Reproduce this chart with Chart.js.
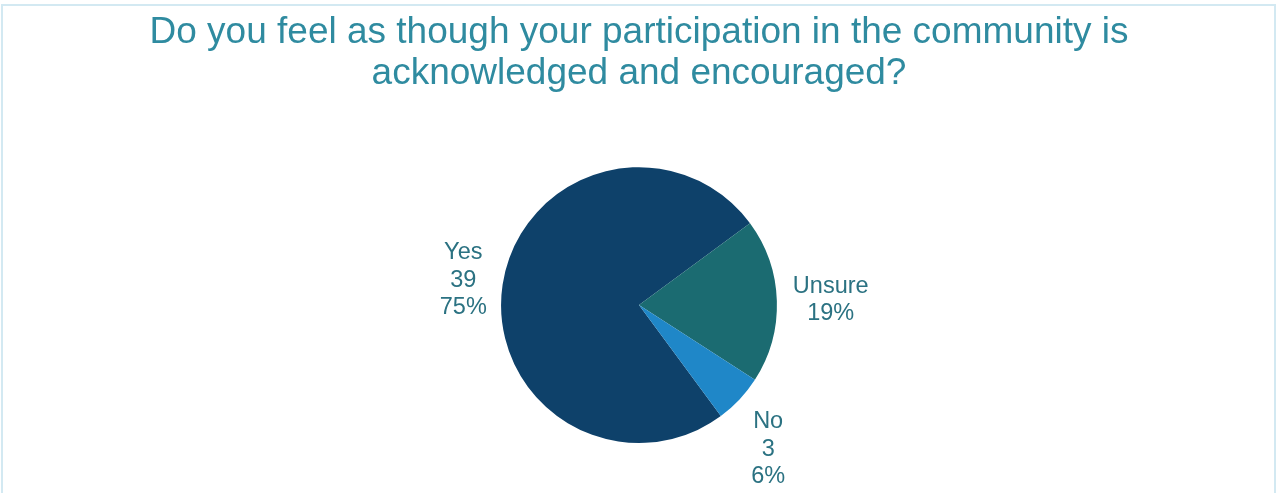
<!DOCTYPE html>
<html>
<head>
<meta charset="utf-8">
<script src="https://cdn.jsdelivr.net/npm/chart.js@4.4.1/dist/chart.umd.min.js"></script>
<style>
  html, body { margin: 0; padding: 0; background: #fff; }
  #wrap { position: relative; width: 1276px; height: 493px; overflow: hidden; }
  #frame {
    position: absolute; left: 1px; top: 4px; width: 1271px; height: 500px;
    border: 2px solid #d3e9f2; pointer-events: none;
  }
  canvas { position: absolute; left: 0; top: 0; }
</style>
</head>
<body>
<div id="wrap">
  <canvas id="chart" width="1276" height="493"></canvas>
  <div id="frame"></div>
</div>
<script>
const TITLE_LINES = [
  "Do you feel as though your participation in the community is",
  "acknowledged and encouraged?",
];
const CATEGORIES = ["Yes", "Unsure", "No"];
const COUNTS = [39, 10, 3];
const PERCENT_LABELS = ["75%", "19%", "6%"];
const SHOW_COUNT = [true, false, true];
const SLICE_COLORS = ["#0e416a", "#1b6b71", "#1f87c8"];

const LABEL_COLOR = "#2b7282";
const LABEL_FONT = "23.5px 'Liberation Sans', Arial, sans-serif";
const LABEL_LINE = 27.5;
const LABEL_GAP = 16;

const clamp1 = (v) => Math.max(-1, Math.min(1, v));

// label blocks sit outside each slice, anchored at the slice's mid angle
const outsideLabels = {
  id: "outsideLabels",
  afterDatasetsDraw(chart) {
    const ctx = chart.ctx;
    const meta = chart.getDatasetMeta(0);
    ctx.save();
    ctx.font = LABEL_FONT;
    ctx.fillStyle = LABEL_COLOR;
    ctx.textAlign = "center";
    ctx.textBaseline = "middle";
    meta.data.forEach((arc, i) => {
      const lines = [CATEGORIES[i]];
      if (SHOW_COUNT[i]) lines.push(String(COUNTS[i]));
      lines.push(PERCENT_LABELS[i]);

      const mid = (arc.startAngle + arc.endAngle) / 2;
      const ux = Math.cos(mid);
      const uy = Math.sin(mid);
      const halfW = Math.max(...lines.map((t) => ctx.measureText(t).width)) / 2;
      const halfH = (lines.length * LABEL_LINE) / 2;
      const ax = arc.x + ux * (arc.outerRadius + LABEL_GAP);
      const ay = arc.y + uy * (arc.outerRadius + LABEL_GAP);
      const cx = ax + halfW * clamp1(1.5 * ux);
      const cy = ay + halfH * clamp1(2 * uy * Math.abs(uy));
      lines.forEach((t, k) => {
        ctx.fillText(t, cx, cy + (k - (lines.length - 1) / 2) * LABEL_LINE);
      });
    });
    ctx.restore();
  },
};

new Chart(document.getElementById("chart"), {
  type: "pie",
  data: {
    labels: CATEGORIES,
    datasets: [
      {
        data: COUNTS,
        backgroundColor: SLICE_COLORS,
        borderWidth: 0,
      },
    ],
  },
  options: {
    responsive: false,
    animation: false,
    rotation: 143.6,
    layout: { padding: { top: 0, bottom: 50, left: 2, right: 0 } },
    plugins: {
      legend: { display: false },
      tooltip: { enabled: false },
      title: {
        display: true,
        text: TITLE_LINES,
        color: "#2f8ba0",
        font: { family: "'Liberation Sans', Arial, sans-serif", size: 37, weight: "normal", lineHeight: 1.11 },
        padding: { top: 12, bottom: 73 },
      },
    },
  },
  plugins: [outsideLabels],
});
</script>
</body>
</html>
